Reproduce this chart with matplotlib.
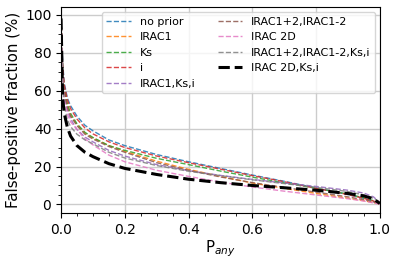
import matplotlib
matplotlib.use("Agg")
import matplotlib.pyplot as plt

p_any = [0, 0.005, 0.01, 0.02, 0.03, 0.05, 0.075, 0.1, 0.15, 0.2, 0.3, 0.4, 0.5, 0.6, 0.7, 0.8, 0.9, 0.95, 0.98, 1.0]

no_prior = [98, 75, 64, 56, 52, 46.5, 41.7, 38.8, 34, 31, 26.3, 22.5, 19, 15.5, 12.2, 8.7, 5.2, 3.2, 1.6, 0.5]
irac1 = [98, 70, 60, 52, 47, 42, 37.5, 35, 31, 28, 22.8, 18.5, 14.8, 11.3, 8.5, 5.8, 3.3, 2, 1, 0.3]
ks = [98, 71, 61, 53, 48, 42.5, 38, 35.3, 31, 28.5, 24.3, 21, 17.6, 14.4, 11.4, 8.5, 5.5, 3.5, 2, 0.5]
i_band = [98, 73, 63, 55, 50.5, 45, 40.3, 37.2, 33, 30, 25.5, 22, 18.6, 15.2, 12, 8.5, 5.2, 3.2, 1.8, 0.5]
irac1_ks_i = [98, 67, 57, 49.5, 45, 39.5, 35.5, 33, 28.5, 25.5, 21, 17.8, 15.3, 13.2, 11.3, 9.5, 7.5, 6, 4, 1]
irac12 = [98, 69, 59, 51, 46.5, 41.5, 37, 34.5, 30.5, 27.5, 22, 18, 14.5, 11.5, 9, 6.5, 4, 2.5, 1.3, 0.3]
irac2d = [98, 65, 55, 47.5, 43.5, 39.5, 34.5, 31.4, 26, 22.5, 18, 14.8, 11.8, 9.2, 7, 5, 3, 1.8, 0.8, 0.2]
irac12_ks_i = [98, 62, 52, 44.5, 41, 37, 34, 32, 27.5, 24.5, 20.5, 17.5, 15.2, 13, 11, 9, 6.8, 5, 3.3, 1]
irac2d_ks_i = [98, 56, 48, 40.5, 36, 31, 27.5, 25.2, 21.5, 19, 15.8, 13.3, 11.5, 10, 8.8, 7.5, 5.8, 4.5, 3, 0.5]

labels = ["no prior", "IRAC1", "Ks", "i", "IRAC1,Ks,i", "IRAC1+2,IRAC1-2",
          "IRAC 2D", "IRAC1+2,IRAC1-2,Ks,i", "IRAC 2D,Ks,i"]
series = [no_prior, irac1, ks, i_band, irac1_ks_i, irac12, irac2d, irac12_ks_i, irac2d_ks_i]
colors = ["tab:blue", "tab:orange", "tab:green", "tab:red", "tab:purple",
          "tab:brown", "tab:pink", "tab:gray", "black"]

fig = plt.figure(figsize=(3.99, 2.62), dpi=100)
ax = fig.add_axes([0.153, 0.187, 0.799, 0.786])
for lab, ys, c in zip(labels, series, colors):
    if c == "black":
        ax.plot(p_any, ys, "--", color=c, lw=2.2, label=lab)
    else:
        ax.plot(p_any, ys, "--", color=c, lw=1.0, alpha=0.85, label=lab)

ax.set_xlim(0, 1)
ax.set_ylim(-4.5, 104)
ax.minorticks_on()
ax.grid(True, which="major", color="#cccccc", lw=1)
ax.tick_params(labelsize=10)
ax.set_xlabel("P$_{any}$", fontsize=10.8, labelpad=1)
ax.set_ylabel("False-positive fraction (%)", fontsize=10.8, labelpad=3)
ax.legend(loc="upper right", ncol=2, fontsize=8, handlelength=2.2,
          columnspacing=2.0, borderaxespad=0.45)
fig.savefig("out.png", dpi=100)
